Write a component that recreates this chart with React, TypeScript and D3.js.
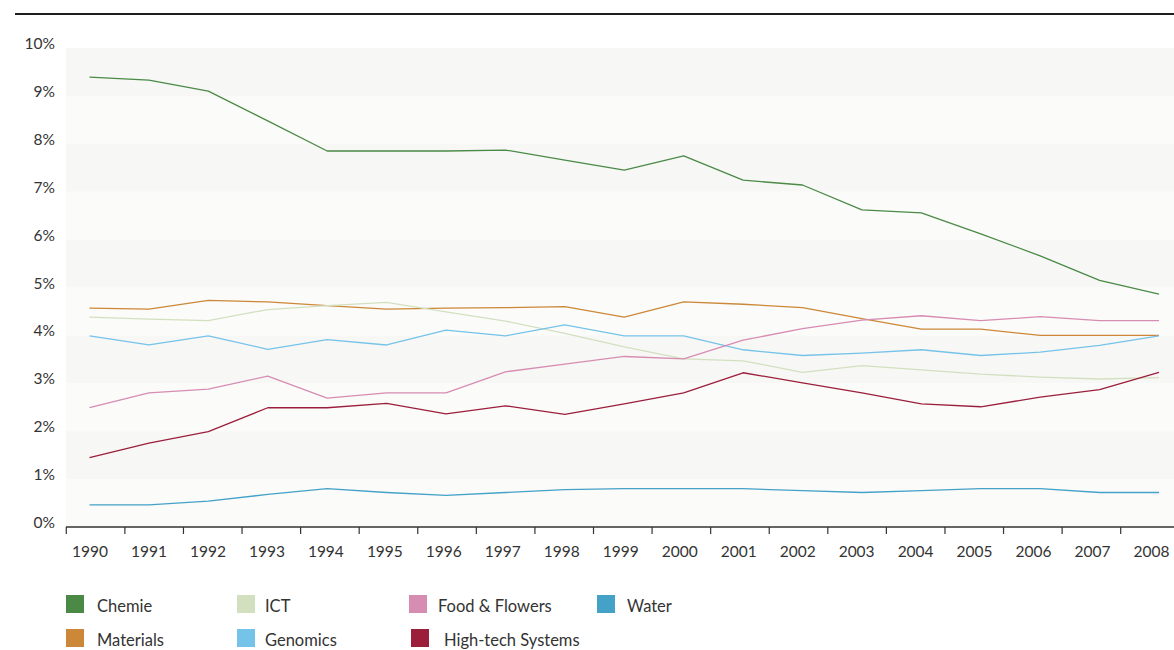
import * as d3 from "d3";

const years = [1990, 1991, 1992, 1993, 1994, 1995, 1996, 1997, 1998, 1999, 2000, 2001, 2002, 2003, 2004, 2005, 2006, 2007, 2008];
const yTicks = [0, 1, 2, 3, 4, 5, 6, 7, 8, 9, 10];

const chemie = [9.39, 9.33, 9.1, 8.48, 7.85, 7.85, 7.85, 7.87, 7.66, 7.45, 7.75, 7.24, 7.14, 6.62, 6.56, 6.12, 5.66, 5.15, 4.86];
const materials = [4.57, 4.55, 4.73, 4.7, 4.62, 4.55, 4.57, 4.58, 4.6, 4.38, 4.7, 4.65, 4.58, 4.35, 4.13, 4.13, 4.0, 4.0, 4.0];
const ict = [4.38, 4.34, 4.31, 4.54, 4.62, 4.69, 4.49, 4.3, 4.04, 3.76, 3.51, 3.47, 3.23, 3.37, 3.28, 3.19, 3.13, 3.09, 3.12];
const genomics = [3.99, 3.8, 3.99, 3.71, 3.91, 3.8, 4.11, 3.99, 4.22, 3.99, 3.99, 3.7, 3.58, 3.63, 3.7, 3.58, 3.65, 3.79, 3.99];
const food = [2.49, 2.8, 2.88, 3.15, 2.69, 2.8, 2.8, 3.24, 3.4, 3.56, 3.51, 3.9, 4.14, 4.32, 4.41, 4.31, 4.39, 4.31, 4.31];
const water = [0.46, 0.46, 0.54, 0.68, 0.8, 0.72, 0.66, 0.72, 0.78, 0.8, 0.8, 0.8, 0.76, 0.72, 0.76, 0.8, 0.8, 0.72, 0.72];
const hightech = [1.45, 1.75, 1.99, 2.49, 2.49, 2.58, 2.36, 2.53, 2.35, 2.57, 2.8, 3.22, 3.01, 2.8, 2.57, 2.51, 2.71, 2.87, 3.23];

const series = [
  { name: "Chemie", values: chemie, color: "#4a8a46" },
  { name: "Materials", values: materials, color: "#cc8838" },
  { name: "ICT", values: ict, color: "#d3e0c0" },
  { name: "Genomics", values: genomics, color: "#76c3e9" },
  { name: "Food & Flowers", values: food, color: "#d78cb2" },
  { name: "Water", values: water, color: "#44a1c8" },
  { name: "High-tech Systems", values: hightech, color: "#9b1f3b" }
];

// legend layout: series index, swatch x, row, gap to text
const legendSlots = [
  { i: 0, x: 66, row: 0, gap: 13 },
  { i: 2, x: 237, row: 0, gap: 10 },
  { i: 4, x: 409, row: 0, gap: 11 },
  { i: 5, x: 597, row: 0, gap: 12 },
  { i: 1, x: 66, row: 1, gap: 13 },
  { i: 3, x: 237, row: 1, gap: 10 },
  { i: 6, x: 411, row: 1, gap: 15 }
];

const FONT = "Lato, 'Noto Sans', sans-serif";

export default function App() {
  const width = 1174;
  const height = 650;
  const plotLeft = 66;
  const plotRight = 1174;

  const y = d3.scaleLinear().domain([0, 10]).range([527, 48]);
  const x = d3.scaleLinear().domain([1990, 2008]).range([89.5, 1159]);
  const xTick = d3.scaleLinear().domain([1990, 2008]).range([66.3, 1120.7]);
  const xLabel = d3.scaleLinear().domain([1990, 2008]).range([90, 1151.5]);

  const line = d3
    .line<number>()
    .x((_, i) => x(years[i]))
    .y((d) => y(d));

  return (
    <div style={{ position: "absolute", left: 0, top: 0 }}>
      <svg width={width} height={height} style={{ display: "block", background: "#fff" }}>
        <line x1={15} x2={width} y1={14} y2={14} stroke="#1e1e1e" strokeWidth={2} />

        {yTicks.slice(0, -1).map((t) => (
          <rect
            key={t}
            x={plotLeft}
            width={plotRight - plotLeft}
            y={y(t + 1)}
            height={y(t) - y(t + 1)}
            fill={(9 - t) % 2 === 0 ? "#f7f7f5" : "#fbfbfa"}
          />
        ))}

        {yTicks.map((t) => (
          <text
            key={t}
            x={55}
            y={y(t) - 5}
            textAnchor="end"
            dominantBaseline="central"
            fontFamily={FONT}
            fontSize={15.5}
            fill="#333"
          >
            {t}%
          </text>
        ))}

        {series.map((s) => (
          <path
            key={s.name}
            d={line(s.values) ?? ""}
            fill="none"
            stroke={s.color}
            strokeWidth={1.3}
            strokeLinejoin="round"
          />
        ))}

        <line x1={plotLeft} x2={plotRight} y1={y(0)} y2={y(0)} stroke="#333" strokeWidth={1.3} />
        {years.map((yr) => (
          <g key={yr}>
            <line x1={xTick(yr)} x2={xTick(yr)} y1={y(0)} y2={y(0) + 7} stroke="#333" strokeWidth={1.2} />
            <text
              x={xLabel(yr)}
              y={551}
              textAnchor="middle"
              dominantBaseline="central"
              fontFamily={FONT}
              fontSize={15.5}
              fill="#333"
            >
              {yr}
            </text>
          </g>
        ))}

        {legendSlots.map((l) => {
          const s = series[l.i];
          const top = l.row === 0 ? 595 : 629;
          return (
            <g key={s.name}>
              <rect x={l.x} y={top} width={18} height={18} fill={s.color} />
              <text
                x={l.x + 18 + l.gap}
                y={top + 11}
                dominantBaseline="central"
                fontFamily={FONT}
                fontSize={16.5}
                fill="#333"
              >
                {s.name}
              </text>
            </g>
          );
        })}
      </svg>
    </div>
  );
}
